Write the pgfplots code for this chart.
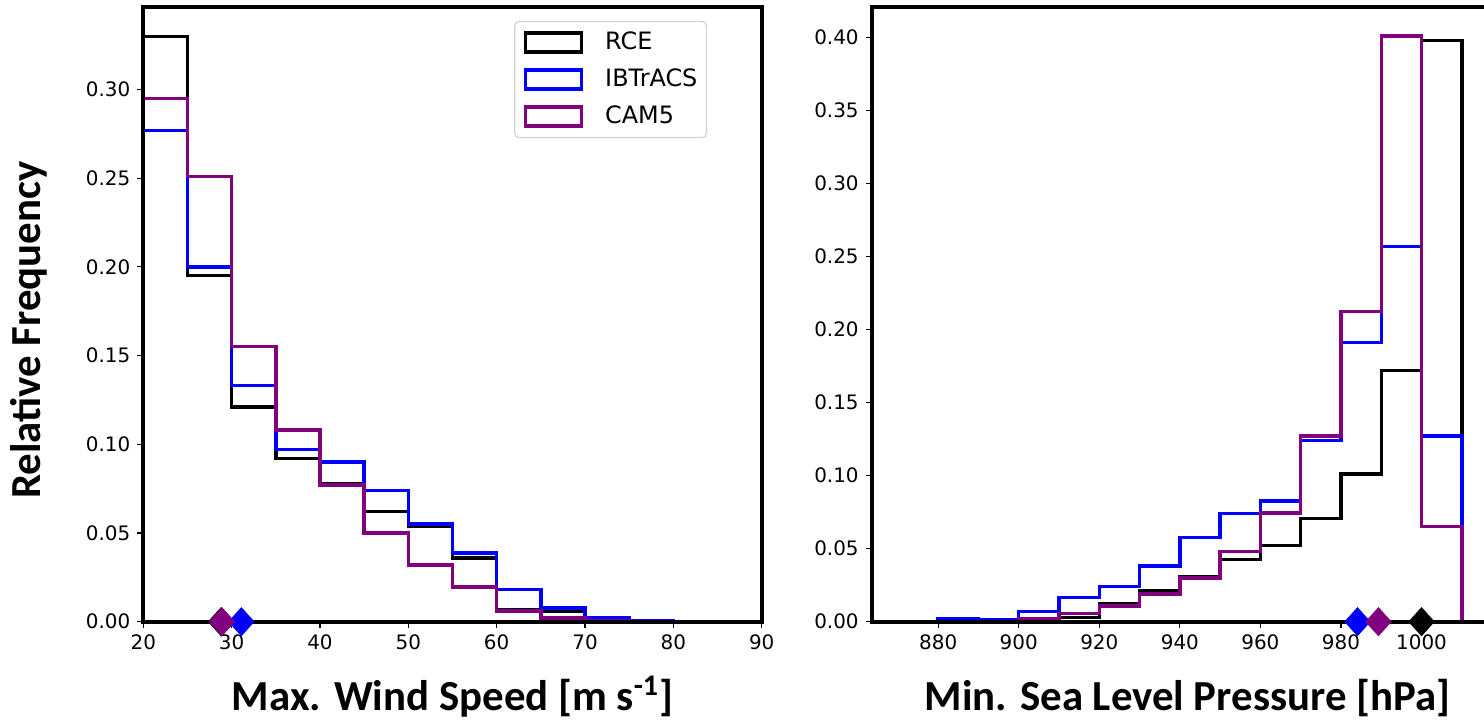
\documentclass[border=0pt]{standalone}
\usepackage{fontspec}
\setmainfont{DejaVu Sans}
\newfontfamily\carlito{Carlito}
\usepackage{pgfplots}
\pgfplotsset{compat=1.18}
\definecolor{cpurple}{RGB}{128,0,128}
\definecolor{cblue}{RGB}{0,0,255}

\pgfplotsset{
  panel/.style={
    scale only axis,
    height=307.35bp,
    ymin=0,
    clip=false,
  },
  histo/.style={
    panel,
    axis on top,
    axis line style={line width=1.9bp},
    tick pos=left,
    tick align=outside,
    major tick length=3bp,
    every tick/.style={black, line width=0.6bp},
    tick label style={font=\fontsize{10}{12}\selectfont, /pgf/number format/assume math mode=true},
    yticklabel style={/pgf/number format/fixed, /pgf/number format/fixed zerofill, /pgf/number format/precision=2},
    xticklabel style={/pgf/number format/1000 sep={}},
    label style={font=\carlito\bfseries\fontsize{21.5}{24}\selectfont},
    xlabel style={at={(axis description cs:0.5,0)}, anchor=base, yshift=-44.15bp},
  },
  step/.style={const plot, line width=1.7bp, color=#1},
  dmark/.style={only marks, mark=diamond*, mark size=7bp, color=#1, mark options={xscale=1.2, fill=#1, draw=#1}},
}

\begin{document}
\begin{tikzpicture}
\useasboundingbox (0,0) rectangle (742bp,360bp);

% left: max wind speed
\begin{axis}[histo, at={(71.65bp,49.15bp)}, anchor=south west, width=309.2bp,
  xmin=20, xmax=90, ymax=0.3465,
  xtick={20,30,40,50,60,70,80,90},
  ytick={0,0.05,0.10,0.15,0.20,0.25,0.30},
  xlabel={Max. Wind Speed [m s\textsuperscript{-1}]},
  ylabel={Relative Frequency},
  ylabel style={at={(axis description cs:-0.1661,0.4745)}, anchor=base},
  legend style={at={(axis description cs:1,1)}, anchor=north east, xshift=-27.35bp, yshift=-7bp,
    draw=black!18, line width=0.6bp, rounded corners=2bp, fill=white,
    font=\fontsize{12}{14}\selectfont, inner xsep=4.5bp, inner ysep=4.75bp,
    row sep=7bp, column sep=11bp,
    nodes={inner sep=0pt, text height=9bp, text depth=2.5bp}, cells={anchor=west}},
  legend image code/.code={\draw[#1, line width=1.7bp, sharp corners] (0bp,-4.75bp) rectangle (28bp,4.75bp);},
]
\addplot[step=black] coordinates {
  (20,0) (20,0.330) (25,0.195) (30,0.121) (35,0.092) (40,0.078) (45,0.062) (50,0.054)
  (55,0.036) (60,0.007) (65,0.006) (70,0.0007) (75,0) (80,0) (85,0) (90,0) (90,0)};
\addlegendentry{RCE}
\addplot[step=cblue] coordinates {
  (20,0) (20,0.277) (25,0.200) (30,0.133) (35,0.097) (40,0.090) (45,0.074) (50,0.055)
  (55,0.0387) (60,0.018) (65,0.0077) (70,0.0025) (75,0.0005) (80,0) (85,0) (90,0) (90,0)};
\addlegendentry{IBTrACS}
\addplot[step=cpurple] coordinates {
  (20,0) (20,0.295) (25,0.251) (30,0.155) (35,0.108) (40,0.077) (45,0.050) (50,0.032)
  (55,0.0196) (60,0.006) (65,0.002) (70,0.0004) (75,0) (80,0) (85,0) (90,0) (90,0)};
\addlegendentry{CAM5}
\end{axis}
% mean markers, drawn above the spines
\begin{axis}[panel, hide axis, at={(71.65bp,49.15bp)}, anchor=south west, width=309.2bp,
  xmin=20, xmax=90, ymax=0.3465]
\addplot[dmark=black] coordinates {(28.8,0)};
\addplot[dmark=cblue] coordinates {(31.1,0)};
\addplot[dmark=cpurple] coordinates {(28.9,0)};
\end{axis}

% right: min sea level pressure
\begin{axis}[histo, at={(435.85bp,49.15bp)}, anchor=south west, width=309.15bp,
  xmin=863.5, xmax=1017, ymax=0.4208,
  xtick={880,900,920,940,960,980,1000},
  ytick={0,0.05,0.10,0.15,0.20,0.25,0.30,0.35,0.40},
  xlabel={Min. Sea Level Pressure [hPa]},
  xlabel style={xshift=3.35bp},
]
\addplot[step=black] coordinates {
  (870,0) (870,0) (880,0) (890,0.0008) (900,0.0016) (910,0.003) (920,0.012) (930,0.021)
  (940,0.031) (950,0.0425) (960,0.052) (970,0.0705) (980,0.101) (990,0.172) (1000,0.398)
  (1010,0.398) (1010,0)};
\addplot[step=cblue] coordinates {
  (870,0) (870,0) (880,0.0018) (890,0.0015) (900,0.0068) (910,0.0166) (920,0.024) (930,0.038)
  (940,0.0575) (950,0.074) (960,0.0825) (970,0.124) (980,0.191) (990,0.257) (1000,0.127)
  (1010,0.127) (1010,0)};
\addplot[step=cpurple] coordinates {
  (870,0) (870,0) (880,0) (890,0.0003) (900,0.0023) (910,0.0057) (920,0.0107) (930,0.019)
  (940,0.030) (950,0.048) (960,0.0745) (970,0.127) (980,0.2125) (990,0.401) (1000,0.065)
  (1010,0.065) (1010,0)};
\end{axis}
\begin{axis}[panel, hide axis, at={(435.85bp,49.15bp)}, anchor=south west, width=309.15bp,
  xmin=863.5, xmax=1017, ymax=0.4208]
\addplot[dmark=black] coordinates {(1000,0)};
\addplot[dmark=cblue] coordinates {(984.1,0)};
\addplot[dmark=cpurple] coordinates {(989.3,0)};
\end{axis}
\end{tikzpicture}
\end{document}
